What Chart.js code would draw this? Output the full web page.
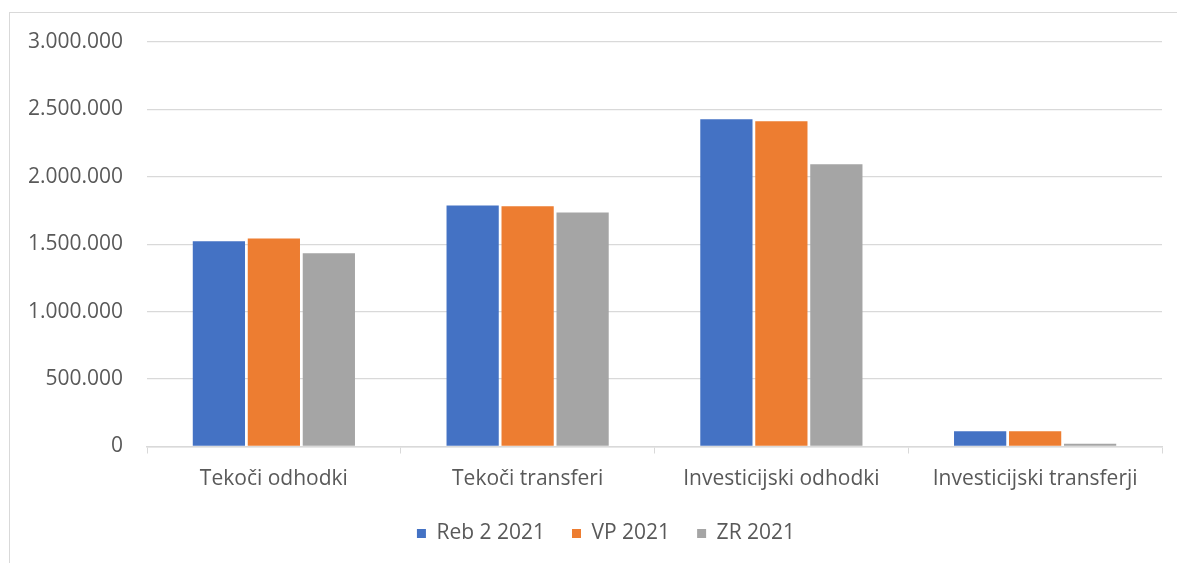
<!DOCTYPE html>
<html lang="sl">
<head>
  <meta charset="UTF-8" />
  <title>Odhodki 2021</title>
  <script src="https://cdn.jsdelivr.net/npm/chart.js"></script>
  <style>
    html, body { margin: 0; padding: 0; background: #fff; overflow: hidden; }
    #frame { position: absolute; left: 9px; top: 12px; width: 1300px; height: 700px; border: 1.5px solid #d9d9d9; }
    #wrap { position: absolute; left: 0; top: 0; width: 1177px; height: 563px; }
  </style>
</head>
<body>
  <div id="frame"></div>
  <div id="wrap"><canvas id="chart"></canvas></div>

  <script>
    const categories = ["Tekoči odhodki", "Tekoči transferi", "Investicijski odhodki", "Investicijski transferji"];
    const seriesNames = ["Reb 2 2021", "VP 2021", "ZR 2021"];
    const reb2021 = [1523000, 1787000, 2427000, 113000];
    const vp2021 = [1543000, 1782000, 2412000, 113000];
    const zr2021 = [1434000, 1736000, 2094000, 21000];
    const yTicks = [0, 500000, 1000000, 1500000, 2000000, 2500000, 3000000];

    const colors = ["#4472C4", "#ED7D31", "#A5A5A5"];
    const textColor = "#595959";
    const font = { family: "'Open Sans', sans-serif", size: 21 };

    function fmt(v) {
      return String(v).replace(/\B(?=(\d{3})+(?!\d))/g, ".");
    }

    const data = {
      labels: categories,
      datasets: [reb2021, vp2021, zr2021].map((values, i) => ({
        label: seriesNames[i],
        data: values,
        backgroundColor: colors[i],
        categoryPercentage: 0.65,
        barPercentage: 0.95
      }))
    };

    // legend sits a bit right of the canvas centre in the original
    const shiftLegend = {
      id: "shiftLegend",
      afterLayout(chart) {
        chart.legend.left += 25;
        chart.legend.right += 25;
      }
    };

    new Chart(document.getElementById("chart"), {
      type: "bar",
      data: data,
      plugins: [shiftLegend],
      options: {
        responsive: true,
        maintainAspectRatio: false,
        animation: false,
        layout: { padding: { left: 0, right: 15, top: 42, bottom: 9 } },
        plugins: {
          tooltip: { enabled: false },
          legend: {
            position: "bottom",
            labels: { boxWidth: 9, boxHeight: 9, padding: 27, color: textColor, font: font }
          }
        },
        scales: {
          x: {
            grid: { offset: true, drawOnChartArea: false, tickLength: 7, color: "#d9d9d9" },
            border: { display: true, color: "#d9d9d9", width: 1.5 },
            ticks: { color: textColor, font: font, padding: 13, maxRotation: 0 },
            afterFit: scale => { scale.height = 49.5; }
          },
          y: {
            min: 0,
            max: 3000000,
            afterBuildTicks: scale => { scale.ticks = yTicks.map(v => ({ value: v })); },
            grid: { drawTicks: false, color: "#d9d9d9", lineWidth: 1.3 },
            border: { display: false },
            ticks: { color: textColor, font: font, padding: 24, callback: v => fmt(v) },
            afterFit: scale => { scale.width = 147; }
          }
        }
      }
    });
  </script>
</body>
</html>
